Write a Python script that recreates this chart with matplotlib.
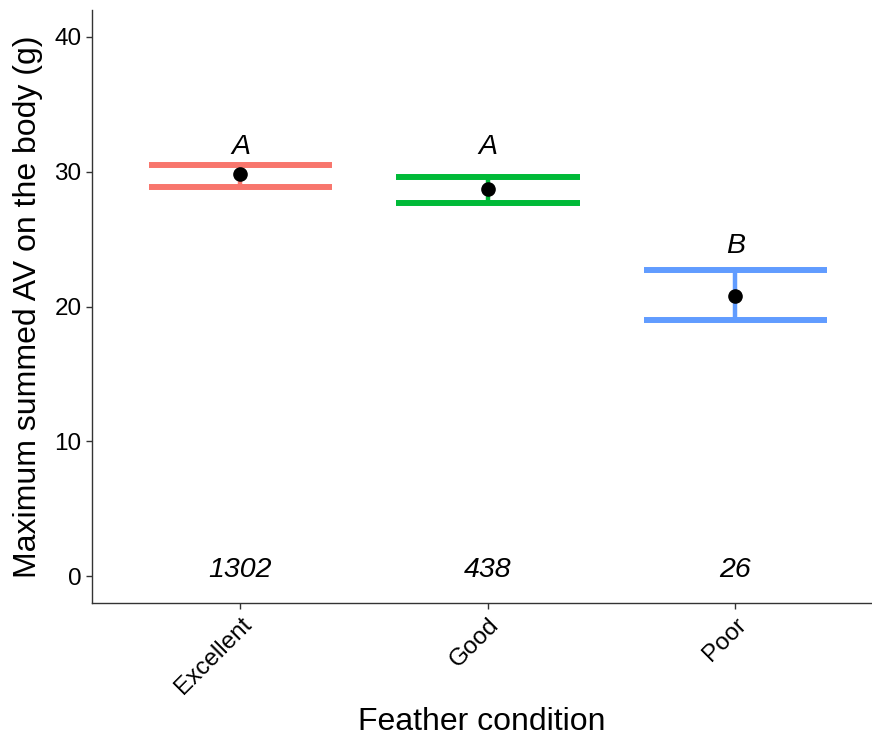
import numpy as np
import matplotlib
matplotlib.use("Agg")
import matplotlib.pyplot as plt

plt.rcParams["font.family"] = ["Liberation Sans", "DejaVu Sans"]

categories = ["Excellent", "Good", "Poor"]
means = [29.8, 28.7, 20.8]
upper = [30.5, 29.6, 22.7]
lower = [28.9, 27.7, 19.0]
letters = ["A", "A", "B"]
letter_y = [31.85, 31.85, 24.5]
counts = ["1302", "438", "26"]
colors = ["#F8766D", "#00BA38", "#619CFF"]

fig = plt.figure(figsize=(8.72, 7.39), dpi=100)
ax = fig.add_axes([0.1055, 0.184, 0.894, 0.8025])

x = np.arange(1, len(categories) + 1)
half = 0.37
for xi, m, lo, hi, c, lab, ly, n in zip(x, means, lower, upper, colors,
                                        letters, letter_y, counts):
    ax.vlines(xi, lo, hi, color=c, lw=3.2, zorder=2)
    ax.hlines([lo, hi], xi - half, xi + half, color=c, lw=4.3, zorder=2)
    ax.plot(xi, m, "o", color="black", ms=9.5, zorder=3)
    ax.text(xi, ly, lab, ha="center", va="center", fontsize=20.5,
            style="italic")
    ax.text(xi, 0.45, n, ha="center", va="center", fontsize=20.5,
            style="italic")

ax.set_xlim(0.4, 3.55)
ax.set_ylim(-2, 42)
ax.set_yticks([0, 10, 20, 30, 40])
ax.set_xticks(x)
ax.set_xticklabels(categories, rotation=45, ha="right", rotation_mode="anchor")

for s in ["top", "right"]:
    ax.spines[s].set_visible(False)
for s in ["left", "bottom"]:
    ax.spines[s].set_color("#333333")
    ax.spines[s].set_linewidth(1.0)
ax.tick_params(axis="both", colors="#333333", labelcolor="black",
               labelsize=17.5, length=4, width=1.0)

ax.set_xlabel("Feather condition", fontsize=23, labelpad=6)
ax.set_ylabel("Maximum summed AV on the body (g)", fontsize=23, labelpad=8)

fig.savefig("out.png", dpi=100)
